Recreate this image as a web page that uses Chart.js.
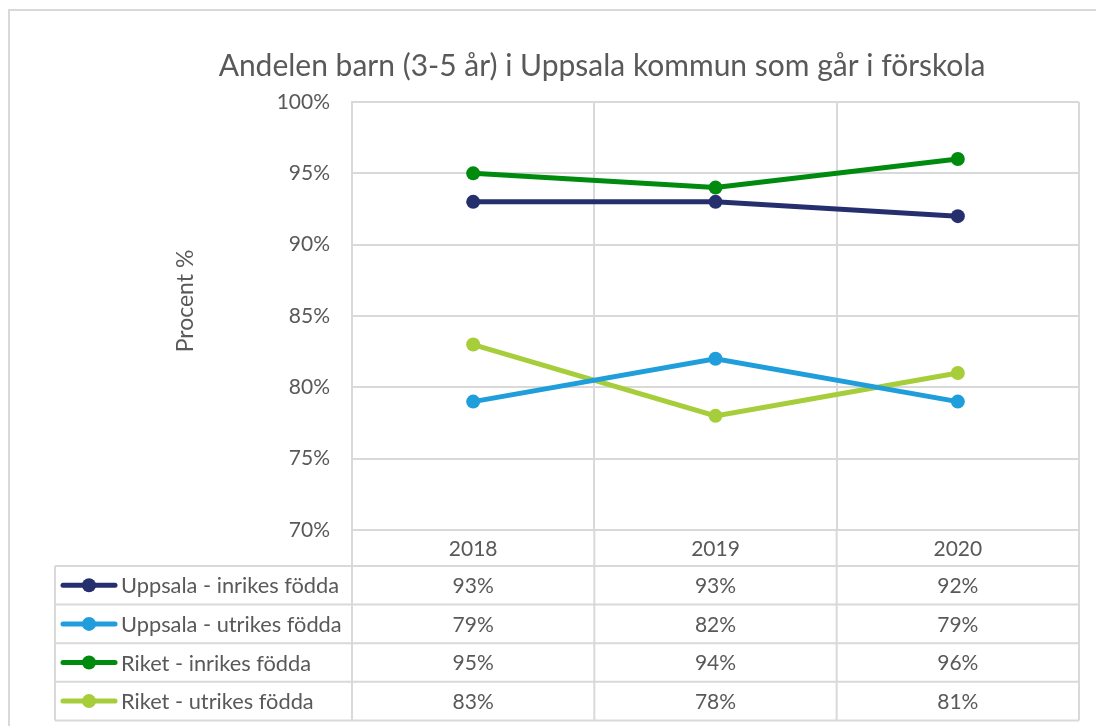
<!DOCTYPE html>
<html lang="sv">
<head>
<meta charset="utf-8">
<title>Andelen barn i förskola</title>
<script src="https://cdn.jsdelivr.net/npm/chart.js@4.4.1/dist/chart.umd.min.js"></script>
<style>
    html, body { margin: 0; padding: 0; background: #ffffff; }
    #wrap { width: 1096px; height: 726px; }
</style>
</head>
<body>
<div id="wrap"><canvas id="chart" width="1096" height="726"></canvas></div>
<script>
// DATA
const years = ['2018', '2019', '2020'];
const seriesNames = ['Uppsala - inrikes födda', 'Uppsala - utrikes födda', 'Riket - inrikes födda', 'Riket - utrikes födda'];
const uppsalaInrikes = [0.93, 0.93, 0.92];
const uppsalaUtrikes = [0.79, 0.82, 0.79];
const riketInrikes = [0.95, 0.94, 0.96];
const riketUtrikes = [0.83, 0.78, 0.81];
const seriesColors = ['#262f6e', '#1f9edb', '#008a0e', '#a6cd3a'];
const yTicks = [0.70, 0.75, 0.80, 0.85, 0.90, 0.95, 1.00];
const chartTitle = 'Andelen barn (3-5 år) i Uppsala kommun som går i förskola';

const FONT = 'Lato, "Open Sans", sans-serif';
const TEXT = '#595959';
const GRID = '#d9d9d9';

const pct = v => Math.round(v * 100) + '%';

// frame, title, axis title and data table below the plot
const tablePlugin = {
    id: 'tablePlugin',
    beforeDraw(chart) {
        const ctx = chart.ctx;
        ctx.save();
        ctx.fillStyle = '#fff';
        ctx.fillRect(0, 0, chart.width, chart.height);
        ctx.strokeStyle = GRID;
        ctx.lineWidth = 2;
        ctx.beginPath();
        ctx.moveTo(9, chart.height + 5);
        ctx.lineTo(9, 10);
        ctx.lineTo(chart.width + 5, 10);
        ctx.stroke();
        ctx.restore();
    },
    afterDraw(chart) {
        const ctx = chart.ctx;
        const area = chart.chartArea;
        const xs = chart.scales.x;
        const data = chart.data.datasets;

        ctx.save();
        ctx.fillStyle = TEXT;
        ctx.textAlign = 'center';
        ctx.textBaseline = 'middle';
        // chart title
        ctx.font = '30px ' + FONT;
        ctx.fillText(chartTitle, 602, 66);
        // y axis title
        ctx.font = '23px ' + FONT;
        ctx.translate(area.left - 166, 301);
        ctx.rotate(-Math.PI / 2);
        ctx.fillText('Procent %', 0, 0);
        ctx.restore();

        const top = area.bottom;
        const headH = 36;
        const rowH = 38.6;
        const tableLeft = 55;
        const bottom = top + headH + rowH * data.length;
        const step = xs.getPixelForValue(1) - xs.getPixelForValue(0);

        ctx.save();
        ctx.strokeStyle = GRID;
        ctx.lineWidth = 2;
        ctx.beginPath();
        // horizontal rules
        for (let k = 0; k <= data.length; k++) {
            const y = top + headH + k * rowH;
            ctx.moveTo(tableLeft, y);
            ctx.lineTo(area.right, y);
        }
        // vertical rules
        ctx.moveTo(tableLeft, top + headH);
        ctx.lineTo(tableLeft, bottom);
        for (let i = 0; i <= years.length; i++) {
            const x = xs.getPixelForValue(0) - step / 2 + i * step;
            ctx.moveTo(x, top);
            ctx.lineTo(x, bottom);
        }
        ctx.stroke();

        ctx.fillStyle = TEXT;
        ctx.font = '21px ' + FONT;
        ctx.textAlign = 'center';
        ctx.textBaseline = 'middle';
        years.forEach((yr, i) => {
            ctx.fillText(yr, xs.getPixelForValue(i), top + headH / 2 + 1);
        });
        data.forEach((ds, r) => {
            const cy = top + headH + rowH * r + rowH / 2 + 1;
            ctx.font = '21px ' + FONT;
            ds.data.forEach((v, i) => {
                ctx.fillText(pct(v), xs.getPixelForValue(i), cy);
            });
            // legend key
            ctx.strokeStyle = ds.borderColor;
            ctx.lineWidth = 5;
            ctx.lineCap = 'round';
            ctx.beginPath();
            ctx.moveTo(63, cy - 1);
            ctx.lineTo(115, cy - 1);
            ctx.stroke();
            ctx.fillStyle = ds.borderColor;
            ctx.beginPath();
            ctx.arc(89, cy - 1, 7, 0, Math.PI * 2);
            ctx.fill();
            ctx.fillStyle = TEXT;
            ctx.textAlign = 'left';
            ctx.font = '21.8px ' + FONT;
            ctx.fillText(ds.label, 121, cy);
            ctx.textAlign = 'center';
        });
        ctx.restore();
    }
};

const seriesValues = [uppsalaInrikes, uppsalaUtrikes, riketInrikes, riketUtrikes];

new Chart(document.getElementById('chart'), {
    type: 'line',
    data: {
        labels: years,
        datasets: seriesValues.map((vals, i) => ({
            label: seriesNames[i],
            data: vals,
            borderColor: seriesColors[i],
            backgroundColor: seriesColors[i],
            borderWidth: 5,
            pointRadius: 7,
            pointHoverRadius: 7,
            pointBorderWidth: 0,
            tension: 0
        }))
    },
    options: {
        responsive: false,
        animation: false,
        layout: { padding: { top: 102, right: 17, bottom: 196, left: 0 } },
        plugins: {
            legend: { display: false },
            tooltip: { enabled: false },
            title: { display: false }
        },
        scales: {
            x: {
                offset: true,
                grid: { offset: true, color: GRID, lineWidth: 2, drawTicks: false },
                border: { color: GRID, width: 2 },
                ticks: { display: false }
            },
            y: {
                min: 0.70,
                max: 1.00,
                afterFit: scale => { scale.width = 352; },
                afterBuildTicks: scale => { scale.ticks = yTicks.map(v => ({ value: v })); },
                grid: { color: GRID, lineWidth: 2, drawTicks: false },
                border: { color: GRID, width: 2 },
                ticks: {
                    color: TEXT,
                    padding: 22,
                    font: { family: FONT, size: 21 },
                    callback: v => pct(v)
                }
            }
        }
    },
    plugins: [tablePlugin]
});
</script>
</body>
</html>
